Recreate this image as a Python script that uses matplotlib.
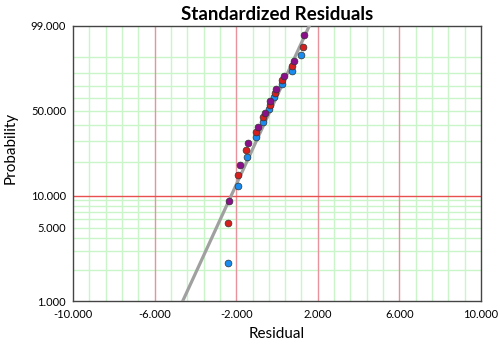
import numpy as np
import matplotlib
matplotlib.use("Agg")
import matplotlib.pyplot as plt

plt.rcParams["font.family"] = ["Lato", "DejaVu Sans"]

# residuals, split by marker colour
blue_x = [-2.42, -1.91, -1.49, -1.04, -0.70, -0.39, -0.13, 0.25, 0.72, 1.20]
blue_p = [2.30, 12.17, 22.04, 31.91, 41.78, 51.64, 61.51, 71.38, 81.25, 91.12]

red_x = [-2.40, -1.90, -1.50, -1.03, -0.67, -0.36, -0.10, 0.26, 0.74, 1.25]
red_p = [5.59, 15.46, 25.33, 35.20, 45.07, 54.93, 64.80, 74.67, 84.54, 94.41]

purple_x = [-2.34, -1.81, -1.42, -0.95, -0.60, -0.33, -0.03, 0.34, 0.82, 1.31]
purple_p = [8.88, 18.75, 28.62, 38.49, 48.36, 58.22, 68.09, 77.96, 87.83, 97.70]

# fitted line (smallest extreme value)
fit_loc = 0.035
fit_scale = 1.012

x_ticks = [-10, -6, -2, 2, 6, 10]
x_tick_labels = ["-10.000", "-6.000", "-2.000", "2.000", "6.000", "10.000"]
y_ticks = [1, 5, 10, 50, 99]
y_tick_labels = ["1.000", "5.000", "10.000", "50.000", "99.000"]
y_minor = [2, 3, 4, 5, 6, 7, 8, 9, 20, 30, 40, 50, 60, 70, 80, 90]
y_major = [10]
x_major = [-6, -2, 2, 6]
x_minor = [-9.2, -8.4, -7.6, -6.8, -5.2, -4.4, -3.6, -2.8, -1.2, -0.4, 0.4, 1.2,
           2.8, 3.6, 4.4, 5.2, 6.8, 7.6, 8.4, 9.2]


def fwd(p):
    p = np.clip(np.asarray(p, dtype=float), 1e-6, 100 - 1e-6)
    return np.log(-np.log(1 - p / 100))


def inv(t):
    return 100 * (1 - np.exp(-np.exp(t)))


fig = plt.figure(figsize=(5, 3.44), dpi=100)
ax = fig.add_axes([0.146, 0.125, 0.816, 0.7996])
ax.set_yscale("function", functions=(fwd, inv))
ax.set_xlim(-10, 10)
ax.set_ylim(1, 99)

# grid
for xv in x_minor:
    ax.axvline(xv, color="#c9f5c9", lw=1.0, zorder=1)
for yv in y_minor:
    ax.axhline(yv, color="#c9f5c9", lw=1.0, zorder=1)
for xv in x_major:
    ax.axvline(xv, color="#e8939b", lw=1.0, zorder=2)
for yv in y_major:
    ax.axhline(yv, color="#e85050", lw=1.0, zorder=2)

# fit line
t = np.linspace(fwd(0.5), fwd(99.9), 100)
ax.plot(fit_loc + fit_scale * t, inv(t), color="#a0a0a0", lw=2.3, zorder=3,
        solid_capstyle="butt")

ax.scatter(blue_x, blue_p, s=24, color="#1a8cf0", edgecolor="#333333",
           linewidth=0.5, zorder=4)
ax.scatter(red_x, red_p, s=24, color="#d62020", edgecolor="#333333",
           linewidth=0.5, zorder=4)
ax.scatter(purple_x, purple_p, s=24, color="#8a108a", edgecolor="#333333",
           linewidth=0.5, zorder=4)

ax.set_xticks(x_ticks)
ax.set_xticklabels(x_tick_labels)
ax.set_yticks(y_ticks)
ax.set_yticklabels(y_tick_labels)
ax.minorticks_off()
ax.tick_params(length=0, labelsize=8, pad=5)
ax.tick_params(axis="x", pad=6)

for s in ax.spines.values():
    s.set_color("#444444")
    s.set_linewidth(1.0)

ax.set_title("Standardized Residuals", fontsize=13.5, fontweight="bold", pad=4)
ax.set_xlabel("Residual", fontsize=11, labelpad=5)
ax.set_ylabel("Probability", fontsize=11)
ax.yaxis.set_label_coords(-0.135, 0.556)

fig.savefig("out.png", dpi=100)
